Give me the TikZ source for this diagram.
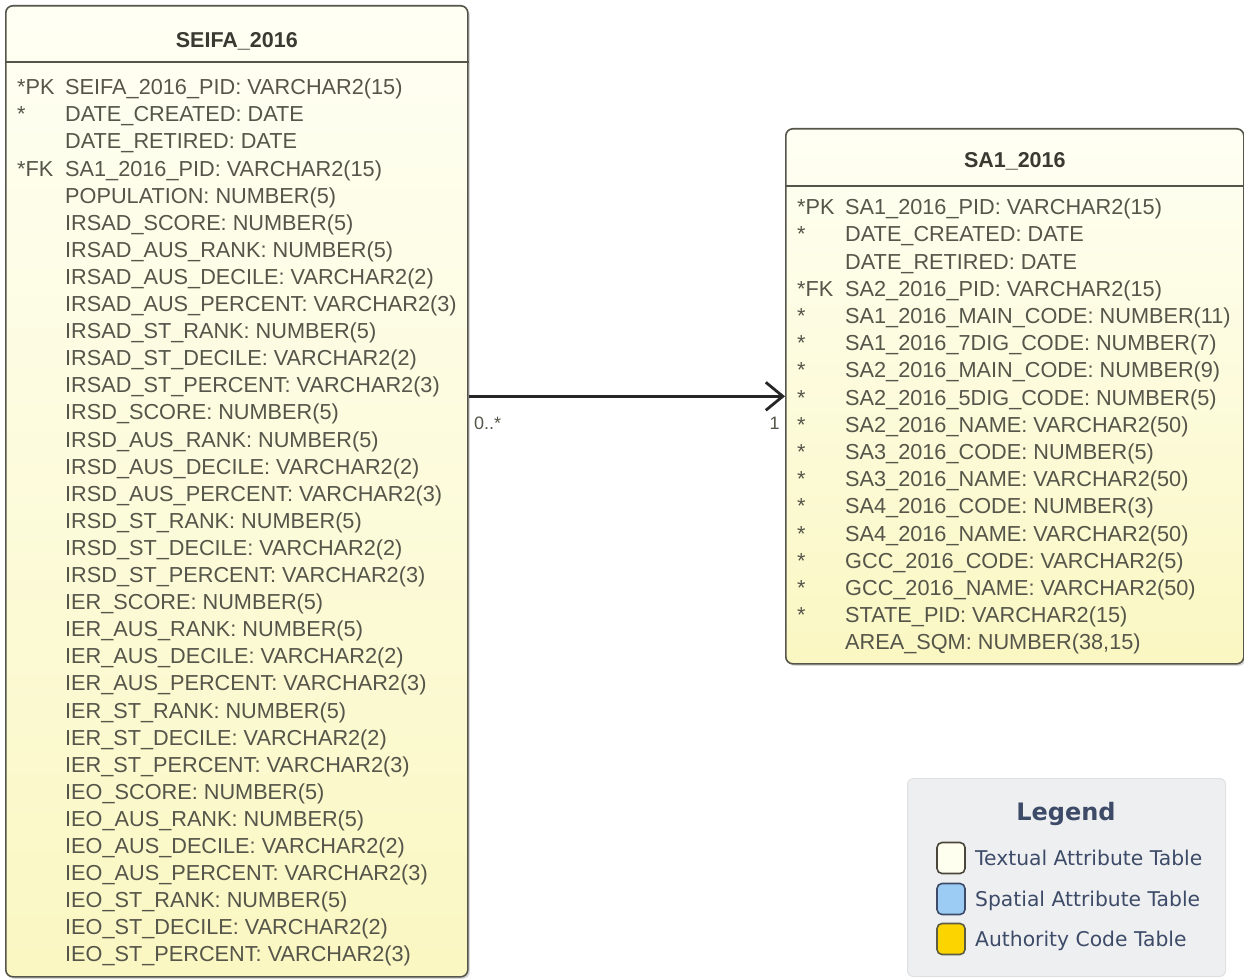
\documentclass[tikz,border=0pt]{standalone}
\usepackage{fontspec}
\setmainfont{Liberation Sans}
\newfontfamily\legendfont{DejaVu Sans}
\usetikzlibrary{arrows.meta,shadows}
\definecolor{boxedge}{HTML}{55554C}
\definecolor{tabletop}{HTML}{FFFFF4}
\definecolor{tablebot}{HTML}{FAF7C2}
\definecolor{rowgray}{HTML}{55554A}
\definecolor{headgray}{HTML}{3A3A32}
\definecolor{legendbg}{HTML}{EEEFF1}
\definecolor{legendink}{HTML}{3D4B68}
\definecolor{textualfill}{HTML}{FFFFF0}
\definecolor{spatialfill}{HTML}{9CCBF4}
\definecolor{authorityfill}{HTML}{FCD400}
\begin{document}
\begin{tikzpicture}[x=1pt,y=-1pt,
	tablebox/.style={draw=boxedge, line width=1.6pt, rounded corners=7pt, top color=tabletop, bottom color=tablebot, inner sep=0pt, anchor=north west, drop shadow={shadow xshift=2pt, shadow yshift=-2pt, opacity=.3}},
	rowtext/.style={anchor=base west, inner sep=0pt, text=rowgray, font=\fontsize{21.7}{26}\selectfont},
	headtext/.style={anchor=base, inner sep=0pt, text=headgray, font=\fontsize{21.5}{26}\selectfont\bfseries},
	mult/.style={text=rowgray, font=\fontsize{18}{22}\selectfont, inner sep=4pt, yshift=-15pt},
	swatch/.style={line width=1.6pt, rounded corners=5pt, minimum width=28pt, minimum height=31pt, inner sep=0pt},
	legendtext/.style={anchor=base west, inner sep=0pt, text=legendink, font=\legendfont\fontsize{20.3}{24}\selectfont}]
	\fill[white] (0,0) rectangle (1244,979);
	\useasboundingbox (0,0) rectangle (1244,979);
	% the two tables
	\node[tablebox, minimum width=462pt, minimum height=971pt] (seifa) at (5,5) {};
	\node[tablebox, minimum width=458pt, minimum height=535pt] (sa1) at (785,128) {};
	\draw[boxedge, line width=1.6pt] (seifa.west |- 0,62) -- (seifa.east |- 0,62);
	\draw[boxedge, line width=1.6pt] (sa1.west |- 0,186) -- (sa1.east |- 0,186);
	\node[headtext] (seifatitle) at (seifa.north |- 0,47.5) {SEIFA\_2016};
	\node[headtext] (sa1title) at (sa1.north |- 0,167.5) {SA1\_2016};
	% SEIFA_2016 columns
	\foreach \k/\t [count=\i] in {*PK/SEIFA\_2016\_PID: VARCHAR2(15), */DATE\_CREATED: DATE, {}/DATE\_RETIRED: DATE,
		*FK/SA1\_2016\_PID: VARCHAR2(15), {}/POPULATION: NUMBER(5),
		{}/IRSAD\_SCORE: NUMBER(5), {}/IRSAD\_AUS\_RANK: NUMBER(5), {}/IRSAD\_AUS\_DECILE: VARCHAR2(2),
		{}/IRSAD\_AUS\_PERCENT: VARCHAR2(3), {}/IRSAD\_ST\_RANK: NUMBER(5), {}/IRSAD\_ST\_DECILE: VARCHAR2(2),
		{}/IRSAD\_ST\_PERCENT: VARCHAR2(3),
		{}/IRSD\_SCORE: NUMBER(5), {}/IRSD\_AUS\_RANK: NUMBER(5), {}/IRSD\_AUS\_DECILE: VARCHAR2(2),
		{}/IRSD\_AUS\_PERCENT: VARCHAR2(3), {}/IRSD\_ST\_RANK: NUMBER(5), {}/IRSD\_ST\_DECILE: VARCHAR2(2),
		{}/IRSD\_ST\_PERCENT: VARCHAR2(3),
		{}/IER\_SCORE: NUMBER(5), {}/IER\_AUS\_RANK: NUMBER(5), {}/IER\_AUS\_DECILE: VARCHAR2(2),
		{}/IER\_AUS\_PERCENT: VARCHAR2(3), {}/IER\_ST\_RANK: NUMBER(5), {}/IER\_ST\_DECILE: VARCHAR2(2),
		{}/IER\_ST\_PERCENT: VARCHAR2(3),
		{}/IEO\_SCORE: NUMBER(5), {}/IEO\_AUS\_RANK: NUMBER(5), {}/IEO\_AUS\_DECILE: VARCHAR2(2),
		{}/IEO\_AUS\_PERCENT: VARCHAR2(3), {}/IEO\_ST\_RANK: NUMBER(5), {}/IEO\_ST\_DECILE: VARCHAR2(2),
		{}/IEO\_ST\_PERCENT: VARCHAR2(3)}
	{
		\node[rowtext] (sk\i) at (17,{94.7+27.1*(\i-1)}) {\k};
		\node[rowtext] (sc\i) at (65,{94.7+27.1*(\i-1)}) {\t};
	}
	% SA1_2016 columns
	\foreach \k/\t [count=\i] in {*PK/SA1\_2016\_PID: VARCHAR2(15), */DATE\_CREATED: DATE, {}/DATE\_RETIRED: DATE,
		*FK/SA2\_2016\_PID: VARCHAR2(15), */SA1\_2016\_MAIN\_CODE: NUMBER(11), */SA1\_2016\_7DIG\_CODE: NUMBER(7),
		*/SA2\_2016\_MAIN\_CODE: NUMBER(9), */SA2\_2016\_5DIG\_CODE: NUMBER(5), */SA2\_2016\_NAME: VARCHAR2(50),
		*/SA3\_2016\_CODE: NUMBER(5), */SA3\_2016\_NAME: VARCHAR2(50), */SA4\_2016\_CODE: NUMBER(3),
		*/SA4\_2016\_NAME: VARCHAR2(50), */GCC\_2016\_CODE: VARCHAR2(5), */GCC\_2016\_NAME: VARCHAR2(50),
		*/STATE\_PID: VARCHAR2(15), {}/AREA\_SQM: NUMBER(38{,}15)}
	{
		\node[rowtext] (ak\i) at (797,{214.7+27.2*(\i-1)}) {\k};
		\node[rowtext] (ac\i) at (845,{214.7+27.2*(\i-1)}) {\t};
	}
	% relation
	\draw[black!85, line width=2.8pt, -{Straight Barb[length=17pt, width=28pt]}] (seifa.east |- sa1.west) -- (sa1.west)
		node[pos=0, below right, mult] (many) {0..*}
		node[pos=1, below left, mult] (one) {1};
	% legend
	\node[draw=black!12, fill=legendbg, line width=1pt, rounded corners=6pt, minimum width=318pt, minimum height=198pt, anchor=north west] (legend) at (907,778) {};
	\node[anchor=base, inner sep=0pt, text=legendink, font=\legendfont\fontsize{24}{28}\selectfont\bfseries] (legendtitle) at (1066,820) {Legend};
	\node[swatch, draw=black!70!yellow!60!black, fill=textualfill] (textual) at (951,858) {};
	\node[swatch, draw=legendink, fill=spatialfill] (spatial) at (951,899) {};
	\node[swatch, draw=black!60!yellow!70!black, fill=authorityfill] (authority) at (951,939) {};
	\node[legendtext] at (975,865) {Textual Attribute Table};
	\node[legendtext] at (975,906) {Spatial Attribute Table};
	\node[legendtext] at (975,946) {Authority Code Table};
\end{tikzpicture}
\end{document}
